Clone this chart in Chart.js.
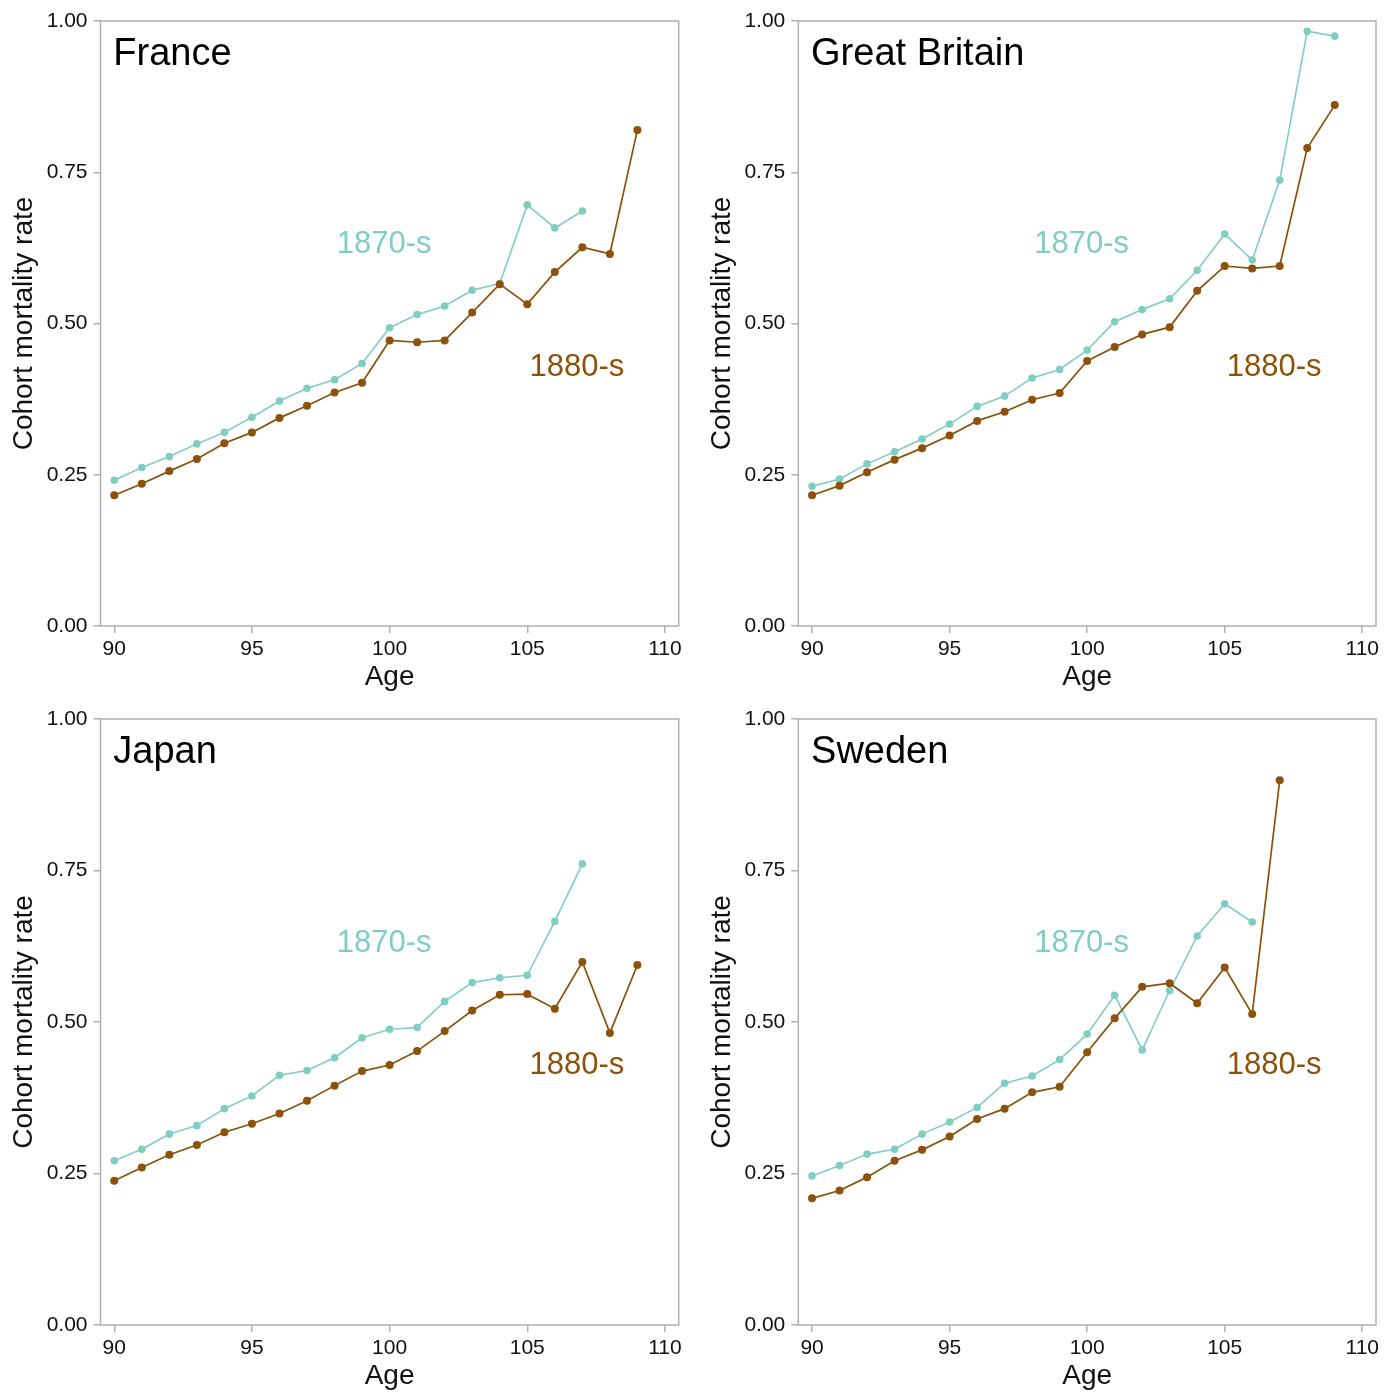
<!DOCTYPE html>
<html>
<head>
<meta charset="utf-8">
<script src="https://cdn.jsdelivr.net/npm/chart.js@4.4.1/dist/chart.umd.min.js"></script>
<style>
  html, body { margin: 0; padding: 0; background: #fff; }
  #wrap { position: relative; width: 1386px; height: 1392px; overflow: hidden; }
  canvas { position: absolute; }
</style>
</head>
<body>
<div id="wrap">
  <canvas id="france" width="693" height="696" style="left:0;top:0"></canvas>
  <canvas id="britain" width="693" height="696" style="left:693px;top:0"></canvas>
  <canvas id="japan" width="693" height="696" style="left:0;top:696px"></canvas>
  <canvas id="sweden" width="693" height="696" style="left:693px;top:696px"></canvas>
</div>
<script>
// Data (cohort mortality rate by age)
const ages = [90, 91, 92, 93, 94, 95, 96, 97, 98, 99, 100, 101, 102, 103, 104, 105, 106, 107, 108, 109];
const ageTicks = [90, 95, 100, 105, 110];
const rateTicks = [0, 0.25, 0.5, 0.75, 1];

const france1870 = [0.241, 0.262, 0.280, 0.301, 0.320, 0.345, 0.372, 0.393, 0.407, 0.434, 0.493, 0.515, 0.529, 0.555, 0.566, 0.696, 0.658, 0.686];
const france1880 = [0.216, 0.235, 0.256, 0.276, 0.302, 0.320, 0.344, 0.364, 0.386, 0.402, 0.472, 0.469, 0.472, 0.518, 0.565, 0.532, 0.585, 0.626, 0.615, 0.820];
const britain1870 = [0.231, 0.243, 0.268, 0.288, 0.309, 0.334, 0.363, 0.380, 0.410, 0.424, 0.456, 0.503, 0.523, 0.541, 0.588, 0.648, 0.605, 0.737, 0.983, 0.975];
const britain1880 = [0.216, 0.232, 0.254, 0.275, 0.294, 0.315, 0.339, 0.354, 0.374, 0.385, 0.438, 0.461, 0.482, 0.494, 0.554, 0.595, 0.591, 0.595, 0.790, 0.861];
const japan1870 = [0.271, 0.290, 0.315, 0.329, 0.357, 0.378, 0.412, 0.420, 0.441, 0.474, 0.488, 0.491, 0.534, 0.565, 0.573, 0.577, 0.666, 0.761];
const japan1880 = [0.238, 0.260, 0.281, 0.297, 0.318, 0.332, 0.349, 0.370, 0.395, 0.419, 0.429, 0.452, 0.485, 0.519, 0.545, 0.546, 0.522, 0.599, 0.482, 0.594];
const sweden1870 = [0.246, 0.263, 0.282, 0.290, 0.315, 0.335, 0.359, 0.399, 0.411, 0.438, 0.480, 0.544, 0.454, 0.552, 0.642, 0.695, 0.665];
const sweden1880 = [0.209, 0.222, 0.244, 0.271, 0.289, 0.311, 0.340, 0.357, 0.384, 0.393, 0.450, 0.506, 0.558, 0.564, 0.531, 0.590, 0.513, 0.899];

const teal = '#80cdc1';
const brown = '#8c510a';
const frameColor = '#b0b0b0';
const textColor = '#111111';
const fontFamily = '"Liberation Sans", Arial, sans-serif';

function toPoints(values) {
  return values.map((v, i) => ({ x: ages[i], y: v }));
}

// frame box + panel title + series labels
const panelDecor = {
  id: 'panelDecor',
  beforeDatasetsDraw(chart) {
    const a = chart.chartArea;
    const ctx = chart.ctx;
    ctx.save();
    ctx.strokeStyle = frameColor;
    ctx.lineWidth = 1.5;
    ctx.strokeRect(a.left, a.top, a.right - a.left, a.bottom - a.top);
    ctx.restore();
  },
  afterDatasetsDraw(chart, args, opts) {
    const x = chart.scales.x, y = chart.scales.y, ctx = chart.ctx;
    ctx.save();
    ctx.textAlign = 'left';
    ctx.textBaseline = 'alphabetic';
    ctx.fillStyle = '#000';
    ctx.font = '38px ' + fontFamily;
    ctx.fillText(opts.title, x.getPixelForValue(90) - 1, y.getPixelForValue(0.927));

    ctx.font = '31px ' + fontFamily;
    ctx.textAlign = 'center';
    ctx.textBaseline = 'middle';
    ctx.fillStyle = teal;
    ctx.fillText('1870-s', x.getPixelForValue(99.8), y.getPixelForValue(0.630));
    ctx.fillStyle = brown;
    ctx.fillText('1880-s', x.getPixelForValue(106.8), y.getPixelForValue(0.428));
    ctx.restore();
  }
};

function makePanel(id, title, s1870, s1880, box) {
  const W = 693, H = 696;
  const xHeight = H - box.bottom;
  new Chart(document.getElementById(id), {
    type: 'line',
    data: {
      datasets: [
        { label: '1880-s', data: toPoints(s1880), borderColor: brown, backgroundColor: brown,
          borderWidth: 1.7, pointRadius: 4, pointBorderWidth: 0, order: 0 },
        { label: '1870-s', data: toPoints(s1870), borderColor: teal, backgroundColor: teal,
          borderWidth: 1.6, pointRadius: 3.8, pointBorderWidth: 0, order: 1 }
      ]
    },
    options: {
      responsive: false,
      animation: false,
      events: [],
      layout: { padding: { left: 0, top: box.top, right: W - box.right, bottom: 0 } },
      plugins: {
        legend: { display: false },
        tooltip: { enabled: false },
        panelDecor: { title: title }
      },
      scales: {
        x: {
          type: 'linear', min: 89.5, max: 110.5,
          afterBuildTicks: s => { s.ticks = ageTicks.map(v => ({ value: v })); },
          afterFit: s => { s.height = xHeight; },
          border: { display: false },
          grid: { drawOnChartArea: false, drawTicks: true, tickLength: 7, color: frameColor, lineWidth: 1.5 },
          ticks: { font: { family: fontFamily, size: 21 }, color: textColor, padding: 4,
                   maxRotation: 0, autoSkip: false, callback: v => String(v) },
          title: { display: true, text: 'Age', color: textColor,
                   font: { family: fontFamily, size: 28 },
                   padding: { top: 0, bottom: H - (box.bottom + 51) - 16.8 } }
        },
        y: {
          type: 'linear', min: 0, max: 1,
          afterBuildTicks: s => { s.ticks = rateTicks.map(v => ({ value: v })); },
          afterFit: s => { s.width = box.left; },
          border: { display: false },
          grid: { drawOnChartArea: false, drawTicks: true, tickLength: 7, color: frameColor, lineWidth: 1.5 },
          ticks: { font: { family: fontFamily, size: 21 }, color: textColor, padding: 6,
                   callback: v => v.toFixed(2) },
          title: { display: true, text: 'Cohort mortality rate', color: textColor,
                   font: { family: fontFamily, size: 28 },
                   padding: { top: box.left - 76 - 16.8, bottom: 0 } }
        }
      }
    },
    plugins: [panelDecor]
  });
}

makePanel('france', 'France', france1870, france1880, { left: 100.5, right: 678.7, top: 21, bottom: 626 });
makePanel('britain', 'Great Britain', britain1870, britain1880, { left: 105.3, right: 683, top: 21, bottom: 626 });
makePanel('japan', 'Japan', japan1870, japan1880, { left: 100.5, right: 678.7, top: 23, bottom: 629 });
makePanel('sweden', 'Sweden', sweden1870, sweden1880, { left: 105.3, right: 683, top: 23, bottom: 629 });
</script>
</body>
</html>
